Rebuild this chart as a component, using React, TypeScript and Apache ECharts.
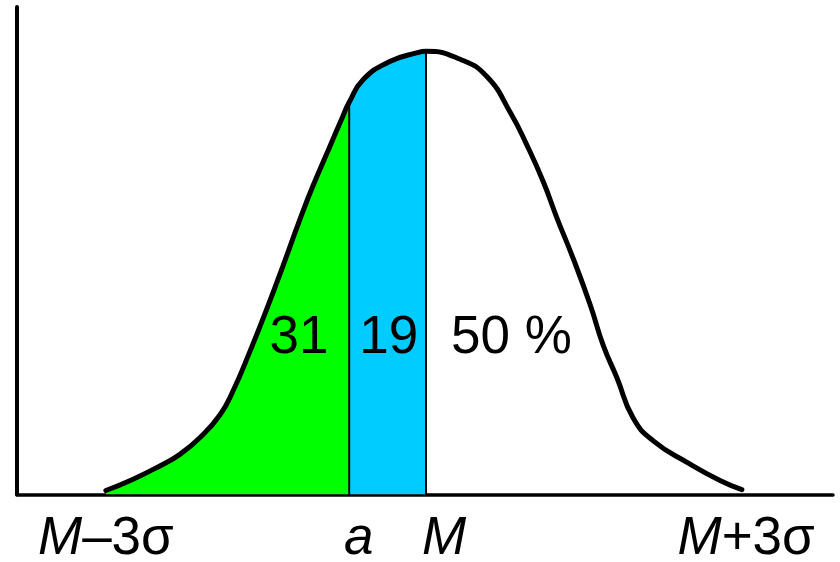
import React, { useEffect, useRef } from "react";
import * as echarts from "echarts";

// Curve: x in σ units around M, y relative to peak height
const curveX = [-3.0, -2.75, -2.49, -2.31, -2.12, -1.93, -1.81, -1.65, -1.49, -1.34, -1.18, -1.06, -0.9, -0.78, -0.72, -0.59, -0.34, -0.08, 0, 0.32, 0.57, 0.79, 0.95, 1.1, 1.23, 1.38, 1.54, 1.66, 1.79, 1.94, 2.13, 2.45, 2.76, 2.96];
const curveY = [0.009, 0.034, 0.065, 0.09, 0.128, 0.18, 0.233, 0.323, 0.42, 0.516, 0.622, 0.696, 0.786, 0.853, 0.885, 0.936, 0.977, 0.997, 1.0, 0.982, 0.943, 0.862, 0.786, 0.705, 0.622, 0.532, 0.427, 0.337, 0.263, 0.173, 0.121, 0.072, 0.031, 0.011];

const aValue = -0.72;
const mValue = 0;

// Region shares and where their labels sit
const shareTexts = ["31", "19", "50 %"];
const shareX = [-1.19, -0.35, 0.8];
const shareY = [0.361, 0.361, 0.361];

// Bottom tick labels
const tickValues = [-3, aValue, 0, 3];
const tickLabels = ["{i|M}{n|–3σ}", "{ia|a}", "{im|M}", "{i|M}{n|+3σ}"];

const FONT = "Liberation Sans, Arial, sans-serif";

export default function App() {
  const ref = useRef<HTMLDivElement>(null);
  useEffect(() => {
    if (!ref.current) return;
    const chart = echarts.init(ref.current, undefined, { renderer: "svg" });
    const curve = curveX.map((x, i) => [x, curveY[i]]);
    const yAtA = curveY[curveX.indexOf(aValue)];
    const yAtM = curveY[curveX.indexOf(mValue)];
    const richBase = { fontSize: 53, fontFamily: FONT, color: "#000", lineHeight: 46 };
    chart.setOption({
      animation: false,
      backgroundColor: "#ffffff",
      grid: { left: 17, right: 7, top: 7, bottom: 65, containLabel: false },
      xAxis: {
        type: "value",
        min: -3.833,
        max: 3.814,
        splitLine: { show: false },
        axisTick: { show: false },
        axisLine: { show: true, onZero: false, lineStyle: { color: "#000", width: 3.5 } },
        axisLabel: {
          customValues: tickValues,
          margin: 18,
          color: "#000",
          fontFamily: FONT,
          fontSize: 53,
          lineHeight: 46,
          formatter: (v: number) => {
            const idx = tickValues.findIndex((t) => Math.abs(t - v) < 1e-6);
            return idx >= 0 ? tickLabels[idx] : "";
          },
          rich: {
            i: { ...richBase, fontStyle: "italic" },
            n: { ...richBase },
            ia: { ...richBase, fontStyle: "italic", padding: [0, 0, 0, 19] },
            im: { ...richBase, fontStyle: "italic", padding: [0, 0, 0, 36] },
          },
        },
      },
      yAxis: {
        type: "value",
        min: 0,
        max: 1.1,
        splitLine: { show: false },
        axisTick: { show: false },
        axisLabel: { show: false },
        axisLine: { show: true, onZero: false, lineStyle: { color: "#000", width: 4 } },
      },
      visualMap: {
        type: "piecewise",
        show: false,
        dimension: 0,
        seriesIndex: 0,
        pieces: [
          { lte: aValue, color: "#00ff00" },
          { gt: aValue, lte: mValue, color: "#00ccff" },
          { gt: mValue, color: "rgba(255,255,255,0)" },
        ],
      },
      series: [
        {
          type: "line",
          data: curve,
          smooth: 0.5,
          symbol: "none",
          lineStyle: { width: 0, opacity: 0 },
          areaStyle: { opacity: 1 },
          z: 1,
          silent: true,
        },
        {
          type: "line",
          data: [[aValue, 0], [aValue, yAtA]],
          symbol: "none",
          lineStyle: { color: "#000", width: 2 },
          z: 2,
          silent: true,
        },
        {
          type: "line",
          data: [[mValue, 0], [mValue, yAtM]],
          symbol: "none",
          lineStyle: { color: "#000", width: 2 },
          z: 2,
          silent: true,
        },
        {
          type: "line",
          data: curve,
          smooth: 0.5,
          symbol: "none",
          lineStyle: { color: "#000", width: 5, cap: "round", join: "round" },
          z: 3,
          silent: true,
        },
        {
          type: "scatter",
          data: shareTexts.map((t, i) => ({ value: [shareX[i], shareY[i]], name: t })),
          symbolSize: 1,
          itemStyle: { color: "rgba(0,0,0,0)", opacity: 1 },
          label: {
            show: true,
            position: "inside",
            formatter: (p: any) => p.name,
            fontSize: 53,
            fontFamily: FONT,
            color: "#000",
            opacity: 1,
          },
          z: 4,
          silent: true,
        },
      ],
    });
    return () => chart.dispose();
  }, []);
  return (
    <div
      ref={ref}
      style={{ position: "fixed", left: 0, top: 0, width: 840, height: 562, background: "#fff" }}
    />
  );
}
